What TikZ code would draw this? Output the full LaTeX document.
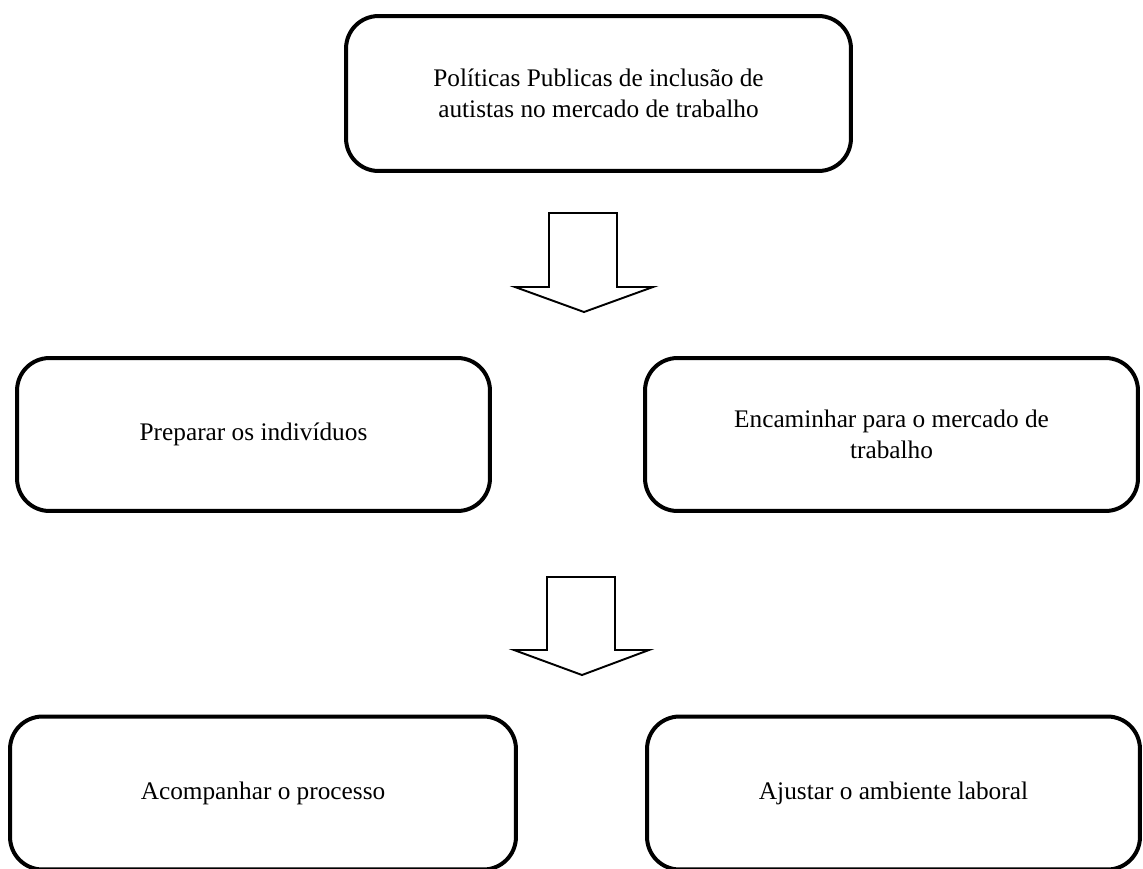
\documentclass[tikz,border=0pt]{standalone}
\usepackage{fontspec}
\setmainfont{Liberation Serif}
\usetikzlibrary{positioning}
\tikzset{
    stepbox/.style = {rectangle, rounded corners=0.65cm, line width=0.08cm, draw=black, align=center, font=\fontsize{14.4}{17.4}\selectfont},
    blockarrow/.style = {line width=1.1pt, draw=black, line join=miter, fill=white},
}
\begin{document}
\begin{tikzpicture}[x=0.02cm,y=-0.02cm]
\useasboundingbox (0,0) rectangle (1143,869);
%
\node[stepbox, minimum width=10.1cm, minimum height=3.1cm] at (598.5, 93.5) (policy) {Políticas Publicas de inclusão de\\autistas no mercado de trabalho};
\node[stepbox, minimum width=9.46cm, minimum height=3.06cm] at (253.5, 434.5) (prepare) {Preparar os indivíduos};
\node[stepbox, minimum width=9.86cm, minimum height=3.06cm] at (891.5, 434.5) (forward) {Encaminhar para o mercado de\\trabalho};
\node[stepbox, minimum width=10.12cm, minimum height=3.06cm] at (263, 793) (follow) {Acompanhar o processo};
\node[stepbox, minimum width=9.86cm, minimum height=3.06cm] at (893.5, 793) (adjust) {Ajustar o ambiente laboral};
%
\draw[blockarrow] (549,287) -- (549,213) -- (617,213) -- (617,287) -- (653,287) -- (584,312) -- (515,287) -- cycle;
\draw[blockarrow] (547,650) -- (547,577) -- (615,577) -- (615,650) -- (649,650) -- (582,675) -- (514,650) -- cycle;

\end{tikzpicture}
\end{document}
